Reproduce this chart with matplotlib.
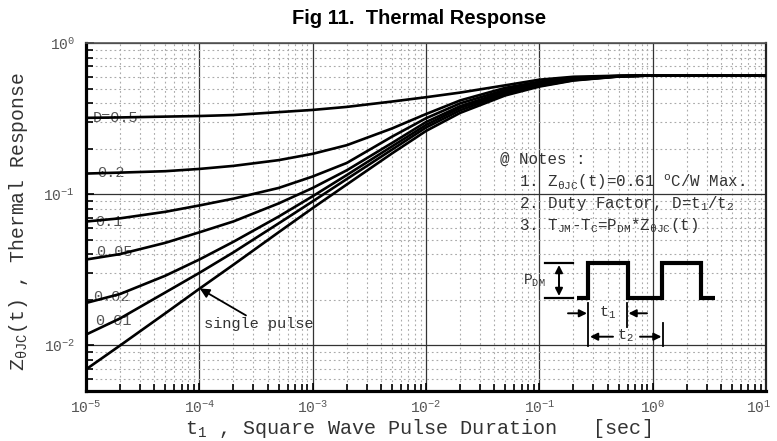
import matplotlib
matplotlib.use("Agg")
import matplotlib.pyplot as plt
from matplotlib.transforms import ScaledTranslation
from matplotlib.ticker import LogLocator, NullFormatter, LogFormatterMathtext, FixedLocator

plt.rcParams['font.family'] = ['Liberation Mono', 'DejaVu Sans']
plt.rcParams['mathtext.fontset'] = 'custom'
plt.rcParams['mathtext.rm'] = 'Liberation Mono'
plt.rcParams['mathtext.it'] = 'Liberation Mono'
plt.rcParams['mathtext.default'] = 'regular'

# ---- data ----
t1 = [1e-5, 2e-5, 5e-5, 1e-4, 2e-4, 5e-4, 1e-3, 2e-3, 5e-3, 1e-2, 2e-2, 5e-2,
      1e-1, 2e-1, 5e-1, 1, 10]
z_d05 = [0.320, 0.322, 0.326, 0.329, 0.334, 0.349, 0.361, 0.378, 0.410, 0.438,
         0.470, 0.525, 0.572, 0.598, 0.608, 0.61, 0.61]
z_d02 = [0.137, 0.139, 0.142, 0.147, 0.154, 0.168, 0.185, 0.211, 0.272, 0.339,
         0.417, 0.505, 0.555, 0.588, 0.606, 0.61, 0.61]
z_d01 = [0.066, 0.0693, 0.0765, 0.0843, 0.0935, 0.110, 0.131, 0.161, 0.240, 0.318,
         0.399, 0.490, 0.545, 0.582, 0.604, 0.61, 0.61]
z_d005 = [0.037, 0.0402, 0.0477, 0.056, 0.0661, 0.0869, 0.110, 0.144, 0.218, 0.300,
          0.382, 0.478, 0.535, 0.577, 0.603, 0.61, 0.61]
z_d002 = [0.0191, 0.0219, 0.0289, 0.037, 0.0485, 0.0711, 0.097, 0.134, 0.207, 0.287,
          0.372, 0.470, 0.527, 0.572, 0.602, 0.61, 0.61]
z_d001 = [0.0118, 0.0151, 0.0224, 0.0302, 0.0413, 0.0641, 0.0897, 0.126, 0.197, 0.276,
          0.359, 0.460, 0.520, 0.568, 0.601, 0.61, 0.61]
z_single = [0.00695, 0.0100, 0.0163, 0.0237, 0.0342, 0.0560, 0.0810, 0.116, 0.186, 0.262,
            0.345, 0.450, 0.515, 0.565, 0.600, 0.61, 0.61]
series = [z_d05, z_d02, z_d01, z_d005, z_d002, z_d001, z_single]
duty_labels = ['D=0.5', '0.2', '0.1', '0.05', '0.02', '0.01']
label_x = [1.15e-5, 1.25e-5, 1.2e-5, 1.24e-5, 1.15e-5, 1.2e-5]
label_y = [0.320, 0.139, 0.066, 0.0417, 0.021, 0.0146]
x_major = [1e-5, 1e-4, 1e-3, 1e-2, 1e-1, 1, 10]
y_major = [1e-2, 1e-1, 1]

W, H = 777, 441
fig = plt.figure(figsize=(W / 100, H / 100), dpi=100)
L, R, T, B = 86, 766, 43, 391
ax = fig.add_axes([L / W, 1 - B / H, (R - L) / W, (B - T) / H])
ax.set_xscale('log')
ax.set_yscale('log')
ax.set_xlim(1e-5, 10)
ax.set_ylim(0.005, 1)

# grid / ticks
ax.xaxis.set_major_locator(FixedLocator(x_major))
ax.yaxis.set_major_locator(FixedLocator(y_major))
ax.xaxis.set_minor_locator(LogLocator(base=10, subs=range(2, 10), numticks=20))
ax.yaxis.set_minor_locator(LogLocator(base=10, subs=range(2, 10), numticks=20))
ax.xaxis.set_minor_formatter(NullFormatter())
ax.yaxis.set_minor_formatter(NullFormatter())
ax.xaxis.set_major_formatter(LogFormatterMathtext())
ax.yaxis.set_major_formatter(LogFormatterMathtext())
ax.grid(True, which='major', color='#333333', lw=0.9, ls='-', zorder=0)
ax.grid(True, which='minor', color='#aaaaaa', lw=0.8, ls=(0, (1.6, 2.6)), zorder=0)
ax.tick_params(which='both', direction='in', top=False, right=False, color='black',
               labelsize=10.5, labelcolor='#555555')
ax.tick_params(which='major', length=6, width=1.2)
ax.tick_params(which='minor', length=5, width=1.2)
ax.tick_params(axis='x', pad=6)
ax.tick_params(axis='y', pad=8)

for side, lw, col in [('left', 2.3, 'black'), ('bottom', 2.3, 'black'),
                      ('right', 1.6, '#222222'), ('top', 1.2, '#555555')]:
    ax.spines[side].set_linewidth(lw)
    ax.spines[side].set_color(col)

# curve labels (behind lines)
for txt, x, y in zip(duty_labels, label_x, label_y):
    ax.text(x, y, txt, fontsize=11, color='#555555', va='center', ha='left', zorder=1)

for z in series:
    ax.plot(t1, z, color='black', lw=1.9, zorder=3, solid_joinstyle='round')

# single pulse annotation
ax.text(1.1e-4, 0.0138, 'single pulse', fontsize=11, color='#333333',
        va='center', ha='left', zorder=4)
ax.annotate('', xy=(1.01e-4, 0.0238), xytext=(2.58e-4, 0.0158),
            arrowprops=dict(arrowstyle='-|>', color='black', lw=1.3,
                            mutation_scale=14, shrinkA=0, shrinkB=0),
            zorder=4)

# title
fig.text(419 / W, 1 - 19 / H, 'Fig 11.  Thermal Response', fontsize=14.5,
         fontweight='bold', family='Liberation Sans', ha='center', va='center')

# axis labels
fig.text(418 / W, 1 - 428 / H, r't$_1$ , Square Wave Pulse Duration   [sec]',
         fontsize=14.5, color='#333333', ha='center', va='center')
fig.text(19 / W, 1 - 222 / H, r'Z$_{\theta JC}$(t) , Thermal Response',
         fontsize=14.2, color='#333333', ha='center', va='center', rotation=90)

# notes
def px(x, y):
    return ((x - L) / (R - L), (B - y) / (B - T))

notes = ['@ Notes :',
         r'  1. Z$_{\theta JC}$(t)=0.61 $^{o}$C/W Max.',
         r'  2. Duty Factor, D=t$_1$/t$_2$',
         r'  3. T$_{JM}$-T$_{C}$=P$_{DM}$*Z$_{\theta JC}$(t)']
note_base = [164, 186.7, 208.3, 230]
for s, yb in zip(notes, note_base):
    ax.text(*px(500, yb), s, transform=ax.transAxes, fontsize=11.4, color='#333333',
            ha='left', va='baseline', zorder=5)

# pulse diagram
def seg(pts, lw, **kw):
    xs = [px(a, b)[0] for a, b in pts]
    ys = [px(a, b)[1] for a, b in pts]
    ax.plot(xs, ys, transform=ax.transAxes, color='black', lw=lw, zorder=5,
            clip_on=False, **kw)

hi, lo = 263.3, 298.3
seg([(576.7, lo), (588.3, lo), (588.3, hi), (628, hi), (628, lo), (662, lo),
     (662, hi), (701, hi), (701, lo), (715, lo)], 3.0, solid_joinstyle='miter',
    solid_capstyle='butt')
seg([(545, 263.3), (573, 263.3)], 1.6)
seg([(545, 297.5), (573, 297.5)], 1.6)
seg([(588.3, 303), (588.3, 345.7)], 1.3)
seg([(627, 303), (627, 327)], 1.3)
seg([(663, 323), (663, 345.7)], 1.3)

def arrow(p_from, p_to, style='-|>'):
    ax.annotate('', xy=px(*p_to), xytext=px(*p_from), xycoords='axes fraction',
                textcoords='axes fraction',
                arrowprops=dict(arrowstyle=style, color='black', lw=1.4,
                                mutation_scale=11, shrinkA=0, shrinkB=0),
                zorder=5)

arrow((559, 265), (559, 296), style='<|-|>')
arrow((568, 313.3), (587, 313.3))
arrow((647, 313.3), (628.5, 313.3))
arrow((613, 336.7), (590, 336.7))
arrow((640, 336.7), (661.5, 336.7))

ax.text(*px(523, 281), r'P$_{DM}$', transform=ax.transAxes, fontsize=10.5,
        color='#333333', ha='left', va='center', zorder=5)
ax.text(*px(599, 313), r't$_1$', transform=ax.transAxes, fontsize=11,
        color='#333333', ha='left', va='center', zorder=5)
ax.text(*px(617, 336), r't$_2$', transform=ax.transAxes, fontsize=11,
        color='#333333', ha='left', va='center', zorder=5)

# keep the last x tick label inside the figure
last = ax.xaxis.get_major_ticks(len(x_major))[-1].label1
last.set_transform(last.get_transform() + ScaledTranslation(-5 / 72, 0, fig.dpi_scale_trans))

fig.savefig('out.png', dpi=100)
